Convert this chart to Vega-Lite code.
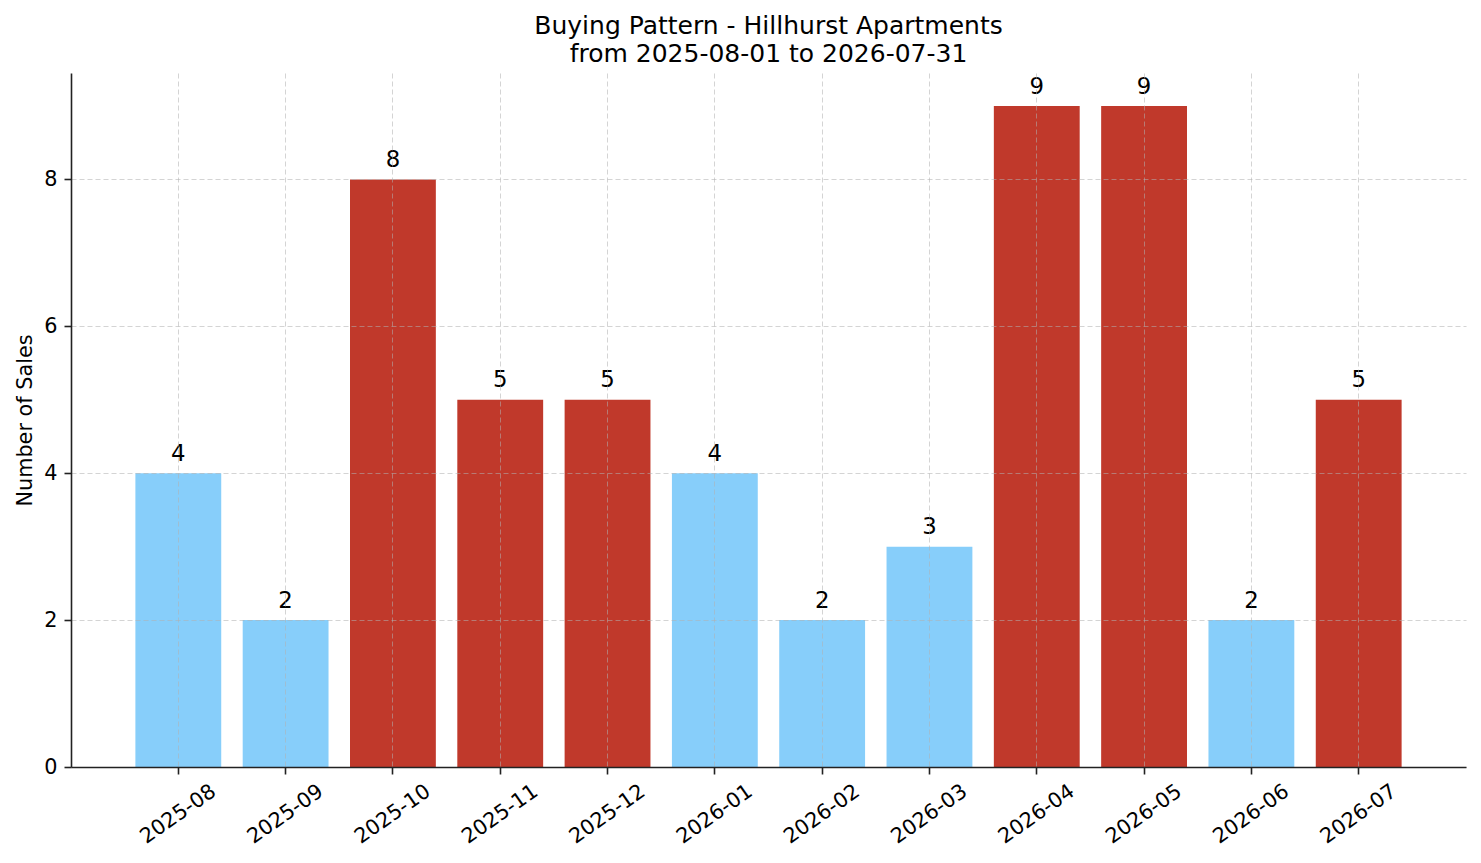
{
  "$schema": "https://vega.github.io/schema/vega-lite/v6.json",
  "autosize": {"type": "none"},
  "width": 1395,
  "height": 694,
  "padding": {"left": 71, "top": 73, "right": 15, "bottom": 96},
  "background": "white",
  "title": {
    "text": ["Buying Pattern - Hillhurst Apartments", "from 2025-08-01 to 2026-07-31"],
    "font": "DejaVu Sans",
    "fontSize": 25,
    "fontWeight": "normal",
    "color": "black",
    "lineHeight": 28,
    "anchor": "middle",
    "baseline": "alphabetic",
    "offset": 8,
    "dy": 22
  },
  "data": {
    "values": [
      {"month": "2025-08", "sales": 4},
      {"month": "2025-09", "sales": 2},
      {"month": "2025-10", "sales": 8},
      {"month": "2025-11", "sales": 5},
      {"month": "2025-12", "sales": 5},
      {"month": "2026-01", "sales": 4},
      {"month": "2026-02", "sales": 2},
      {"month": "2026-03", "sales": 3},
      {"month": "2026-04", "sales": 9},
      {"month": "2026-05", "sales": 9},
      {"month": "2026-06", "sales": 2},
      {"month": "2026-07", "sales": 5}
    ]
  },
  "encoding": {
    "x": {
      "field": "month",
      "type": "ordinal",
      "sort": null,
      "scale": {"paddingInner": 0.2, "paddingOuter": 0.6},
      "axis": {
        "title": null,
        "bandPosition": 0.5,
        "labelAngle": -35,
        "labelAlign": "center",
        "labelBaseline": "middle",
        "labelPadding": 40,
        "grid": true,
        "zindex": 1
      }
    },
    "y": {
      "field": "sales",
      "type": "quantitative",
      "scale": {"domain": [0, 9.45], "nice": false},
      "axis": {
        "title": "Number of Sales",
        "values": [0, 2, 4, 6, 8],
        "grid": true,
        "labelPadding": 7,
        "titlePadding": 8,
        "zindex": 1
      }
    }
  },
  "layer": [
    {
      "mark": {"type": "bar"},
      "encoding": {
        "color": {
          "condition": {"test": "datum.sales >= 5", "value": "#C0392B"},
          "value": "#87CEFA"
        }
      }
    },
    {
      "mark": {
        "type": "text",
        "font": "DejaVu Sans",
        "fontSize": 22.8,
        "color": "black",
        "baseline": "alphabetic",
        "dy": -12.5
      },
      "encoding": {"text": {"field": "sales", "type": "quantitative"}}
    }
  ],
  "config": {
    "view": {"stroke": null},
    "axis": {
      "labelFont": "DejaVu Sans",
      "labelFontSize": 20.8,
      "labelColor": "black",
      "titleFont": "DejaVu Sans",
      "titleFontSize": 20.8,
      "titleFontWeight": "normal",
      "titleColor": "black",
      "domainColor": "#222222",
      "domainWidth": 1.6,
      "tickColor": "#222222",
      "tickWidth": 1.6,
      "tickSize": 7,
      "gridColor": "#b0b0b0",
      "gridOpacity": 0.55,
      "gridWidth": 1,
      "gridDash": [5, 3]
    }
  }
}
